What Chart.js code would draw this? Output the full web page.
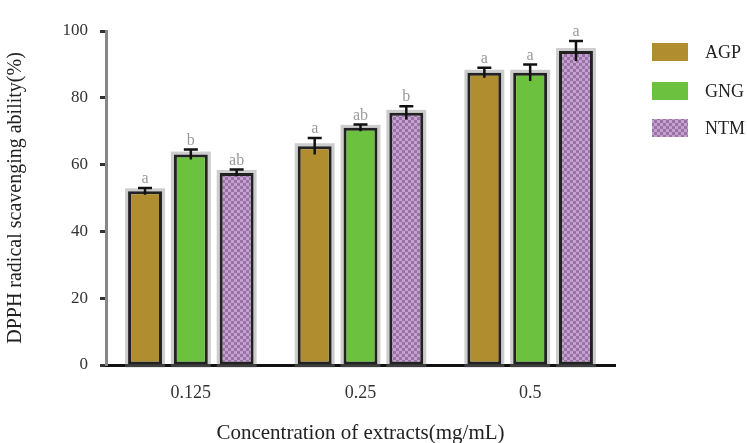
<!DOCTYPE html>
<html><head><meta charset="utf-8">
<script src="https://cdn.jsdelivr.net/npm/chart.js@4.4.1/dist/chart.umd.min.js"></script>
<style>html,body{margin:0;padding:0;background:#fff}#wrap{width:747px;height:443px}</style>
</head><body><div id="wrap"><canvas id="c" width="747" height="443"></canvas></div>
<script>
const categories = ['0.125', '0.25', '0.5'];
const seriesNames = ['AGP', 'GNG', 'NTM'];
const agp = [52, 65.5, 87.5];
const gng = [63, 71, 87.5];
const ntm = [57.5, 75.5, 94];
const agpErr = [1, 2.5, 1.5];
const gngErr = [1.5, 1, 2.5];
const ntmErr = [1, 2, 3];
const agpLetters = ['a', 'a', 'a'];
const gngLetters = ['b', 'ab', 'a'];
const ntmLetters = ['ab', 'b', 'a'];
const yTicks = [0, 20, 40, 60, 80, 100];

function makePattern(){
  const p = document.createElement('canvas'); p.width = 6; p.height = 6;
  const g = p.getContext('2d');
  g.fillStyle = '#c4a2cf'; g.fillRect(0,0,6,6);
  g.fillStyle = '#9a72a8'; g.fillRect(0,0,3,3); g.fillRect(3,3,3,3);
  return document.getElementById('c').getContext('2d').createPattern(p,'repeat');
}
const ntmFill = makePattern();
const colors = ['#b08d2e', '#6cc23e', ntmFill];
const errs = [agpErr, gngErr, ntmErr];
const letters = [agpLetters, gngLetters, ntmLetters];
const serif = "'Liberation Serif', 'DejaVu Serif', serif";

const extras = {
  id: 'extras',
  beforeDatasetsDraw(chart){
    const ctx = chart.ctx;
    chart.data.datasets.forEach((ds, di) => {
      chart.getDatasetMeta(di).data.forEach(bar => {
        ctx.save();
        ctx.strokeStyle = 'rgba(130,130,130,0.4)'; ctx.lineWidth = 6;
        const w = bar.width;
        ctx.strokeRect(bar.x - w/2, bar.y, w, bar.base - bar.y);
        ctx.restore();
      });
    });
  },
  afterDatasetsDraw(chart){
    const ctx = chart.ctx, y = chart.scales.y;
    chart.data.datasets.forEach((ds, di) => {
      const meta = chart.getDatasetMeta(di);
      meta.data.forEach((bar, i) => {
        const v = ds.data[i], e = errs[di][i];
        const yt = y.getPixelForValue(v + e), yb = y.getPixelForValue(v - e);
        ctx.save();
        ctx.strokeStyle = '#111'; ctx.lineWidth = 2.5;
        ctx.beginPath(); ctx.moveTo(bar.x, yt); ctx.lineTo(bar.x, yb);
        ctx.moveTo(bar.x - 7, yt); ctx.lineTo(bar.x + 7, yt); ctx.stroke();
        ctx.fillStyle = '#9a9a9a'; ctx.font = '16px ' + serif;
        ctx.textAlign = 'center'; ctx.textBaseline = 'bottom';
        ctx.fillText(letters[di][i], bar.x, yt - 1);
        ctx.restore();
      });
    });
    const ys = [52, 91, 128];
    chart.data.datasets.forEach((ds, di) => {
      ctx.save();
      ctx.fillStyle = ds.backgroundColor;
      ctx.fillRect(652, ys[di] - 9, 36, 18);
      ctx.fillStyle = '#222'; ctx.font = '18px ' + serif;
      ctx.textAlign = 'left'; ctx.textBaseline = 'middle';
      ctx.fillText(ds.label, 705, ys[di] + 1);
      ctx.restore();
    });
  }
};

new Chart(document.getElementById('c'), {
  type: 'bar',
  data: {
    labels: categories,
    datasets: [agp, gng, ntm].map((d, i) => ({
      label: seriesNames[i], data: d, backgroundColor: colors[i],
      borderColor: '#222', borderWidth: 3, borderSkipped: false,
      categoryPercentage: 0.81, barPercentage: 0.74
    }))
  },
  options: {
    responsive: false, animation: false, devicePixelRatio: 1,
    layout: { padding: { top: 31, right: 132, left: 0, bottom: 0 } },
    plugins: { legend: { display: false }, tooltip: { enabled: false } },
    scales: {
      x: {
        grid: { display: false, drawOnChartArea: false, tickLength: 6, tickColor: '#111', tickWidth: 3 },
        border: { display: true, color: '#111', width: 3 },
        ticks: { color: '#333', font: { family: serif, size: 18 }, padding: 11 },
        title: { display: true, text: 'Concentration of extracts(mg/mL)', color: '#222', font: { family: serif, size: 21 }, padding: { top: 20, bottom: -3 } },
        afterFit(s){ s.height = 78; }
      },
      y: {
        min: 0, max: 100,
        afterBuildTicks(s){ s.ticks = yTicks.map(v => ({ value: v })); },
        grid: { display: true, drawOnChartArea: false, tickLength: 6, tickColor: '#333', tickWidth: 3 },
        border: { display: true, color: '#888', width: 3 },
        ticks: { color: '#333', font: { family: serif, size: 17 }, padding: 12 },
        title: { display: true, text: 'DPPH radical scavenging ability(%)', color: '#222', font: { family: serif, size: 20 } },
        afterFit(s){ s.width = 106; }
      }
    }
  },
  plugins: [extras]
});
</script></body></html>
